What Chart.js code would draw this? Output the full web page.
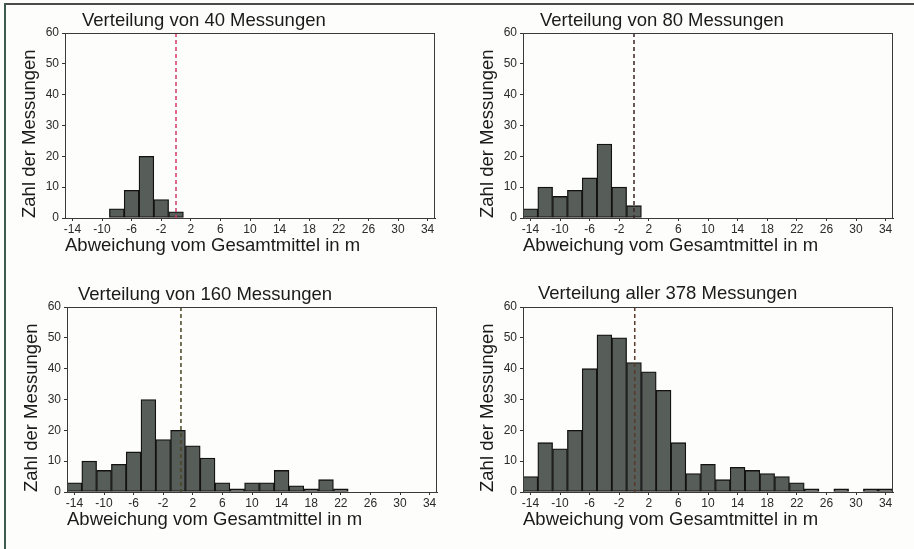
<!DOCTYPE html>
<html>
<head>
<meta charset="utf-8">
<script src="https://cdn.jsdelivr.net/npm/chart.js@4"></script>
<style>
  body { margin: 0; background: #fdfdfb; }
  #page { position: relative; width: 914px; height: 549px; overflow: hidden; background: #fdfdfb; }
  #page canvas { position: absolute; }
  .ttl { position: absolute; font-family: "Liberation Sans", Arial, sans-serif; font-size: 18.5px; line-height: 1; color: #1a1a1a; white-space: nowrap; }
  .frameTop { position: absolute; left: 5px; top: 3px; width: 909px; height: 2px; background: #4a4a4a; }
  .frameLeft { position: absolute; left: 4px; top: 3px; width: 2px; height: 546px; background: #3d5a50; }
</style>
</head>
<body>
<div id="page">
  <div class="frameTop"></div>
  <div class="frameLeft"></div>
  <canvas id="c1" width="457" height="274" style="left:-1px;top:0px"></canvas>
  <canvas id="c2" width="457" height="274" style="left:457px;top:0px"></canvas>
  <canvas id="c3" width="457" height="274" style="left:1px;top:274px"></canvas>
  <canvas id="c4" width="457" height="274" style="left:457px;top:274px"></canvas>
  <div class="ttl" style="left:82px;top:11px">Verteilung von 40 Messungen</div>
  <div class="ttl" style="left:540px;top:11px">Verteilung von 80 Messungen</div>
  <div class="ttl" style="left:78px;top:285px">Verteilung von 160 Messungen</div>
  <div class="ttl" style="left:538px;top:284px">Verteilung aller 378 Messungen</div>
</div>
<script>
console.log("ready");

// bin centres (2 m wide bins from -15 to 35)
var binCenters = [-14, -12, -10, -8, -6, -4, -2, 0, 2, 4, 6, 8, 10, 12, 14, 16, 18, 20, 22, 24, 26, 28, 30, 32, 34];

// counts per bin
var counts40  = [0, 0, 0, 3, 9, 20, 6, 2, 0, 0, 0, 0, 0, 0, 0, 0, 0, 0, 0, 0, 0, 0, 0, 0, 0];
var counts80  = [3, 10, 7, 9, 13, 24, 10, 4, 0, 0, 0, 0, 0, 0, 0, 0, 0, 0, 0, 0, 0, 0, 0, 0, 0];
var counts160 = [3, 10, 7, 9, 13, 30, 17, 20, 15, 11, 3, 1, 3, 3, 7, 2, 1, 4, 1, 0, 0, 0, 0, 0, 0];
var counts378 = [5, 16, 14, 20, 40, 51, 50, 42, 39, 33, 16, 6, 9, 4, 8, 7, 6, 5, 3, 1, 0, 1, 0, 1, 1];

// tick labels
var xTicks = [-14, -10, -6, -2, 2, 6, 10, 14, 18, 22, 26, 30, 34];
var yTicks = [0, 10, 20, 30, 40, 50, 60];

// dashed mean line positions and colours
var meanLines = [0, 0, 0.4, 0.1];
var meanColors = ["#d0386e", "#3d2424", "#4a4420", "#5a3a2a"];

var fontFam = "'Liberation Sans', Arial, sans-serif";

// frame round the plot area + dashed mean line
var boxPlugin = {
    id: "boxAndMean",
    afterDatasetsDraw: function(chart, args, opts) {
        var ctx = chart.ctx;
        var a = chart.chartArea;
        var x = chart.scales.x.getPixelForValue(opts.mean);
        ctx.save();
        ctx.strokeStyle = opts.color;
        ctx.lineWidth = 1.5;
        ctx.setLineDash([4, 3]);
        ctx.beginPath();
        ctx.moveTo(x, a.top);
        ctx.lineTo(x, a.bottom);
        ctx.stroke();
        ctx.setLineDash([]);
        ctx.strokeStyle = "#3a3a3a";
        ctx.lineWidth = 1;
        ctx.strokeRect(a.left + 0.5, a.top + 0.5, a.right - a.left - 1, a.bottom - a.top);
        ctx.restore();
    }
};

function makeHist(id, counts, idx) {
    var pts = [];
    for (var i = 0; i < binCenters.length; i++) {
        if (counts[i] > 0) pts.push({ x: binCenters[i], y: counts[i] });
    }
    return new Chart(document.getElementById(id), {
        type: "bar",
        data: {
            datasets: [{
                data: pts,
                backgroundColor: "#575d59",
                borderColor: "#121212",
                borderWidth: 1.3,
                borderSkipped: false,
                barPercentage: 1,
                categoryPercentage: 1
            }]
        },
        plugins: [boxPlugin],
        options: {
            responsive: false,
            animation: false,
            layout: { padding: { top: 33, right: 21, left: 0, bottom: 0 } },
            plugins: {
                legend: { display: false },
                tooltip: { enabled: false },
                boxAndMean: { mean: meanLines[idx], color: meanColors[idx] }
            },
            scales: {
                x: {
                    type: "linear",
                    offset: false,
                    min: -15,
                    max: 35,
                    afterBuildTicks: function(scale) {
                        scale.ticks = xTicks.map(function(v) { return { value: v }; });
                    },
                    afterFit: function(scale) { scale.height = 56; },
                    grid: { drawOnChartArea: false, offset: false, tickLength: 3, color: "#333" },
                    border: { color: "#333" },
                    ticks: {
                        autoSkip: false,
                        maxRotation: 0,
                        padding: 1,
                        color: "#2a2a2a",
                        font: { family: fontFam, size: 12 }
                    },
                    title: {
                        display: true,
                        text: "Abweichung vom Gesamtmittel in m",
                        align: "start",
                        color: "#1a1a1a",
                        padding: { top: 2, bottom: 17 },
                        font: { family: fontFam, size: 18.5 }
                    }
                },
                y: {
                    min: 0,
                    max: 60,
                    afterBuildTicks: function(scale) {
                        scale.ticks = yTicks.map(function(v) { return { value: v }; });
                    },
                    afterFit: function(scale) { scale.width = 66; },
                    grid: { drawOnChartArea: false, tickLength: 3, color: "#333" },
                    border: { color: "#333" },
                    ticks: {
                        padding: 3,
                        color: "#2a2a2a",
                        font: { family: fontFam, size: 12 }
                    },
                    title: {
                        display: true,
                        text: "Zahl der Messungen",
                        align: "start",
                        color: "#1a1a1a",
                        padding: { top: 20, bottom: 2 },
                        font: { family: fontFam, size: 18.5 }
                    }
                }
            }
        }
    });
}

makeHist("c1", counts40, 0);
makeHist("c2", counts80, 1);
makeHist("c3", counts160, 2);
makeHist("c4", counts378, 3);
</script>
</body>
</html>
